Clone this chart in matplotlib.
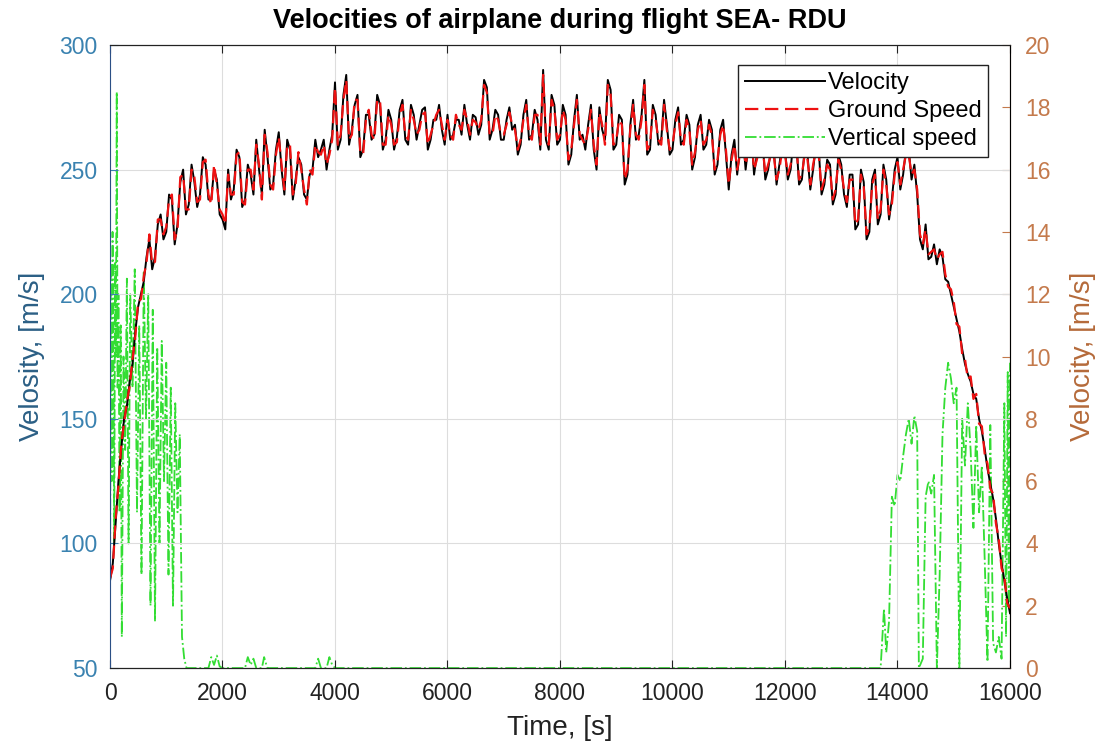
import numpy as np
import matplotlib
matplotlib.use('Agg')
import matplotlib.pyplot as plt

plt.rcParams['font.family'] = ['Liberation Sans', 'DejaVu Sans']

# velocity and ground speed, sampled every 50 s
time = np.arange(0, 16001, 50)
velocity = [
    85, 92, 108, 125, 138, 150, 155, 165, 172, 185, 195, 200, 205, 215, 222, 210, 215, 228, 232, 222,
    225, 240, 238, 220, 228, 245, 250, 232, 236, 252, 245, 235, 240, 255, 252, 238, 238, 250, 246, 232,
    230, 226, 250, 238, 242, 258, 255, 235, 238, 252, 248, 240, 262, 250, 240, 266, 255, 242, 244, 258,
    265, 250, 240, 262, 258, 238, 246, 255, 252, 240, 238, 248, 250, 262, 255, 258, 262, 250, 258, 264,
    285, 258, 262, 280, 288, 260, 266, 276, 280, 255, 258, 272, 272, 262, 264, 280, 276, 258, 262, 274,
    270, 258, 263, 274, 278, 262, 260, 276, 272, 262, 268, 274, 275, 258, 262, 270, 270, 276, 266, 260,
    272, 262, 264, 270, 270, 264, 276, 268, 262, 272, 271, 264, 268, 286, 283, 262, 266, 274, 272, 262,
    262, 270, 275, 266, 268, 256, 260, 272, 278, 262, 264, 274, 270, 258, 290, 262, 258, 280, 276, 260,
    262, 276, 272, 252, 256, 270, 280, 262, 264, 258, 268, 276, 258, 250, 275, 266, 262, 286, 282, 258,
    260, 272, 270, 244, 248, 268, 278, 262, 264, 272, 286, 256, 258, 276, 272, 260, 262, 278, 268, 256,
    258, 270, 275, 260, 262, 272, 268, 250, 255, 268, 272, 258, 260, 270, 266, 248, 252, 266, 270, 256,
    242, 256, 262, 248, 258, 264, 250, 260, 265, 248, 256, 262, 262, 246, 250, 258, 258, 244, 252, 260,
    258, 246, 250, 262, 262, 244, 246, 258, 256, 242, 250, 260, 258, 240, 244, 254, 252, 236, 240, 256,
    252, 240, 235, 248, 248, 226, 228, 250, 245, 222, 225, 246, 250, 228, 232, 252, 246, 230, 238, 250,
    255, 242, 248, 258, 258, 246, 252, 240, 222, 218, 228, 214, 215, 220, 212, 218, 215, 206, 205, 200,
    195, 190, 185, 178, 172, 168, 165, 160, 158, 150, 145, 138, 130, 124, 118, 110, 100, 92, 85, 78,
    72]
ground_speed = [
    86, 90, 110, 123, 140, 148, 157, 163, 174, 183, 197, 198, 207, 213, 224, 212, 213, 230, 230, 224,
    227, 238, 240, 222, 226, 247, 248, 234, 234, 250, 247, 237, 238, 253, 254, 240, 236, 252, 244, 234,
    232, 228, 248, 240, 240, 256, 257, 237, 236, 250, 250, 242, 260, 252, 238, 264, 257, 244, 242, 256,
    263, 252, 242, 260, 260, 240, 244, 257, 250, 242, 236, 250, 248, 260, 257, 256, 260, 252, 256, 262,
    283, 260, 264, 278, 286, 262, 264, 278, 278, 257, 256, 270, 274, 264, 262, 278, 278, 260, 260, 272,
    268, 260, 261, 272, 276, 264, 262, 274, 270, 264, 266, 272, 273, 260, 264, 268, 272, 274, 268, 262,
    270, 264, 262, 272, 268, 266, 274, 270, 264, 270, 269, 266, 270, 284, 281, 264, 264, 272, 270, 264,
    264, 268, 273, 268, 266, 258, 262, 270, 276, 264, 262, 272, 272, 260, 288, 264, 260, 278, 274, 262,
    264, 274, 270, 254, 258, 268, 278, 264, 262, 260, 266, 274, 260, 252, 273, 268, 260, 284, 280, 260,
    262, 270, 268, 246, 250, 266, 276, 264, 262, 270, 284, 258, 260, 274, 270, 262, 260, 276, 266, 258,
    260, 268, 273, 262, 260, 270, 266, 252, 257, 266, 270, 260, 262, 268, 264, 250, 254, 264, 268, 258,
    244, 254, 260, 250, 256, 262, 252, 258, 263, 250, 254, 260, 260, 248, 252, 256, 256, 246, 250, 258,
    256, 248, 252, 260, 260, 246, 248, 256, 254, 244, 252, 258, 256, 242, 246, 252, 250, 238, 242, 254,
    250, 242, 237, 246, 246, 228, 230, 248, 243, 224, 227, 244, 248, 230, 234, 250, 244, 232, 236, 248,
    253, 244, 250, 256, 256, 248, 250, 242, 224, 220, 226, 216, 217, 218, 214, 216, 217, 208, 203, 202,
    197, 188, 187, 176, 174, 166, 167, 158, 160, 148, 147, 136, 132, 122, 120, 108, 102, 90, 87, 76,
    74]

# vertical speed (right axis), irregular sampling
vs_time = [
    0, 15, 30, 45, 60, 75, 90, 105, 120, 135, 150, 170, 190, 210, 240,
    270, 300, 330, 360, 400, 440, 480, 520, 560, 600, 640, 680, 720, 760,
    800, 840, 880, 920, 960, 1000, 1040, 1080, 1120, 1160, 1200, 1240,
    1280, 1320, 1360, 1750, 1800, 1850, 1900, 1950, 2000, 2400, 2450,
    2500, 2550, 2600, 2700, 2740, 2780, 2800, 3650, 3700, 3750, 3850,
    3900, 3950, 4000, 13700, 13760, 13800, 13850, 13900, 13950, 14000,
    14050, 14100, 14150, 14200, 14250, 14300, 14350, 14380, 14450, 14500,
    14550, 14600, 14650, 14700, 14750, 14800, 14850, 14900, 14950, 15000,
    15050, 15100, 15150, 15200, 15250, 15300, 15350, 15400, 15450, 15500,
    15550, 15600, 15650, 15700, 15750, 15800, 15850, 15900, 15930, 15960,
    15980, 16000]
vs_value = [
    2, 13, 6, 14, 11, 4, 13, 10, 18.5, 9, 12, 5, 11, 1, 10,
    7, 12.5, 4, 12, 9, 12.8, 5, 11, 3, 12.7, 8, 12, 2, 11.5,
    1.5, 10.3, 4, 10.5, 6, 9.8, 3, 9, 2, 8.5, 5, 7.5,
    1, 0.3, 0, 0, 0.35, 0.1, 0.4, 0.05, 0, 0, 0.35,
    0.1, 0.3, 0, 0, 0.35, 0.1, 0, 0, 0.3, 0, 0,
    0.35, 0.1, 0, 0, 1.9, 0.5, 1.5, 5.5, 5.2, 6.2,
    6.0, 6.8, 7.5, 8.0, 7.2, 8.1, 7.6, 0, 0.3, 5.5,
    6.0, 5.6, 6.2, 0, 3, 7.5, 9.0, 9.8, 9.3, 8.5,
    9.0, 0, 8.0, 6.5, 8.5, 7.0, 4.5, 7.8, 5.0, 6.5,
    3.5, 0.2, 7.8, 0.8, 0.5, 1.0, 0.3, 8.5, 1.0, 9.5,
    2.0, 9.8]

left_color = '#3a82b0'
left_label_color = '#2b5f85'
right_color = '#c47a4c'
right_label_color = '#b56a3a'
green = '#33dd33'

fig = plt.figure(figsize=(11.1, 7.49), dpi=100)
ax = fig.add_axes([0.0991, 0.1081, 0.8108, 0.8318])

l1, = ax.plot(time, velocity, color='black', lw=1.4, label='Velocity')
l2, = ax.plot(time, ground_speed, color='#ee1111', lw=1.6, ls='--', dashes=(6, 3),
              label='Ground Speed')
ax.set_xlim(0, 16000)
ax.set_ylim(50, 300)
ax.set_xticks(np.arange(0, 16001, 2000))
ax.set_yticks(np.arange(50, 301, 50))
ax.grid(True, color='#dddddd', lw=0.8)
ax.tick_params(axis='y', colors=left_color, labelsize=16.5, direction='in', length=6, pad=9)
ax.tick_params(axis='x', labelsize=16.5, direction='in', length=6, top=True,
               colors='#222222', pad=10)
ax.set_ylabel('Velosity, [m/s]', color=left_label_color, fontsize=20, labelpad=10)
ax.set_xlabel('Time, [s]', fontsize=20, color='#222222', labelpad=7)
ax.spines['left'].set_color('#2b4f85')
ax.spines['bottom'].set_color('#222222')
ax.spines['top'].set_color('#222222')

ax2 = ax.twinx()
l3, = ax2.plot(vs_time, vs_value, color=green, lw=1.3, ls='-.', label='Vertical speed')
ax2.set_ylim(0, 20)
ax2.set_yticks(np.arange(0, 21, 2))
ax2.tick_params(axis='y', colors=right_color, labelsize=16.5, direction='in', length=6, pad=11)
ax2.set_ylabel('Velocity, [m/s]', color=right_label_color, fontsize=20, labelpad=14)
ax2.spines['right'].set_color('#a8764f')
ax2.spines['left'].set_visible(False)

ax.set_zorder(ax2.get_zorder() + 1)
ax.patch.set_visible(False)

leg = ax.legend(handles=[l1, l2, l3], loc='upper right', fontsize=17, frameon=True,
                fancybox=False, borderpad=0.3, labelspacing=0.25, handlelength=3.4,
                handletextpad=0.1, borderaxespad=0, bbox_to_anchor=(0.976, 0.968))
leg.get_frame().set_edgecolor('#222222')
leg.get_frame().set_linewidth(1.0)
leg.get_frame().set_alpha(1)

ax.set_title('Velocities of airplane during flight SEA- RDU', fontsize=19.5,
             fontweight='bold', pad=12)

fig.savefig('out.png', dpi=100)
